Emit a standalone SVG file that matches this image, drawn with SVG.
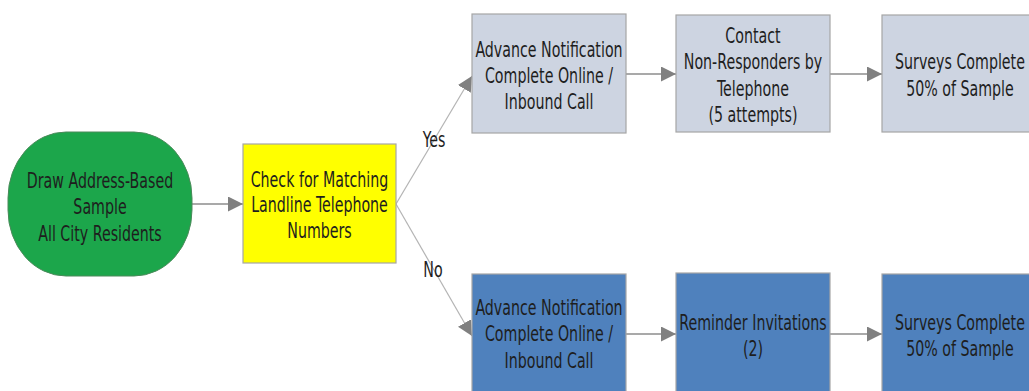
<svg xmlns="http://www.w3.org/2000/svg" width="1029" height="391" viewBox="0 0 1029 391">
  <style>
    text { font-family: "DejaVu Sans Condensed", "DejaVu Sans", sans-serif; font-size: 21.5px; fill: #1e1e1e; text-anchor: middle; }
    .box { stroke: #a6a6a6; stroke-width: 1.2; }
    .light { fill: #cdd4e1; }
    .dark { fill: #4f81bd; }
    .link { stroke: #8c8c8c; stroke-width: 1.5; fill: none; }
    .branch { stroke: #b4b4b4; stroke-width: 1.2; fill: none; }
  </style>
  <defs>
    <marker id="head" viewBox="0 0 10 10" refX="10" refY="5" markerWidth="15" markerHeight="15" markerUnits="userSpaceOnUse" orient="auto">
      <path d="M0,0 L10,5 L0,10 Z" fill="#808080"/>
    </marker>
  </defs>
  <rect width="1029" height="391" fill="#ffffff"/>

  <!-- labels are set in a narrow face: each line is squeezed horizontally about its anchor -->
  <g id="connectors">
    <line class="link" x1="192" y1="204" x2="243" y2="204" marker-end="url(#head)"/>
    <line class="branch" x1="396" y1="204" x2="472" y2="76" marker-end="url(#head)"/>
    <line class="branch" x1="396" y1="204" x2="472" y2="336" marker-end="url(#head)"/>
    <line class="link" x1="626" y1="74" x2="676" y2="74" marker-end="url(#head)"/>
    <line class="link" x1="830" y1="74" x2="882" y2="74" marker-end="url(#head)"/>
    <line class="link" x1="626" y1="334" x2="676" y2="334" marker-end="url(#head)"/>
    <line class="link" x1="830" y1="334" x2="882" y2="334" marker-end="url(#head)"/>
    <text transform="translate(434 147) scale(0.735 1)">Yes</text>
    <text transform="translate(433 277) scale(0.735 1)">No</text>
  </g>

  <g id="draw-sample">
    <rect x="8" y="132" width="184" height="144" rx="58" ry="66" fill="#1ca64b" stroke="#4a8a5a" stroke-width="1"/>
    <text transform="translate(100 188) scale(0.735 1)">Draw Address-Based</text>
    <text transform="translate(100 214) scale(0.735 1)">Sample</text>
    <text transform="translate(100 241) scale(0.735 1)">All City Residents</text>
  </g>

  <g id="check-landline">
    <rect class="box" x="243" y="144" width="153" height="119" fill="#ffff00"/>
    <text transform="translate(319.5 187) scale(0.735 1)">Check for Matching</text>
    <text transform="translate(319.5 212) scale(0.735 1)">Landline Telephone</text>
    <text transform="translate(319.5 238) scale(0.735 1)">Numbers</text>
  </g>

  <g id="yes-notify">
    <rect class="box light" x="472" y="14" width="154" height="119"/>
    <text transform="translate(549 57) scale(0.735 1)">Advance Notification</text>
    <text transform="translate(549 83) scale(0.735 1)">Complete Online /</text>
    <text transform="translate(549 109) scale(0.735 1)">Inbound Call</text>
  </g>

  <g id="yes-contact">
    <rect class="box light" x="676" y="15" width="154" height="117"/>
    <text transform="translate(753 43) scale(0.735 1)">Contact</text>
    <text transform="translate(753 69) scale(0.735 1)">Non-Responders by</text>
    <text transform="translate(753 96) scale(0.735 1)">Telephone</text>
    <text transform="translate(753 122) scale(0.735 1)">(5 attempts)</text>
  </g>

  <g id="yes-complete">
    <rect class="box light" x="882" y="15" width="160" height="117"/>
    <text transform="translate(960 69) scale(0.735 1)">Surveys Complete</text>
    <text transform="translate(960 96) scale(0.735 1)">50% of Sample</text>
  </g>

  <g id="no-notify">
    <rect class="box dark" x="472" y="274" width="154" height="130"/>
    <text transform="translate(549 315) scale(0.735 1)">Advance Notification</text>
    <text transform="translate(549 341) scale(0.735 1)">Complete Online /</text>
    <text transform="translate(549 368) scale(0.735 1)">Inbound Call</text>
  </g>

  <g id="no-reminder">
    <rect class="box dark" x="676" y="273" width="154" height="130"/>
    <text transform="translate(753 330) scale(0.735 1)">Reminder Invitations</text>
    <text transform="translate(753 356) scale(0.735 1)">(2)</text>
  </g>

  <g id="no-complete">
    <rect class="box dark" x="882" y="274" width="160" height="130"/>
    <text transform="translate(960 330) scale(0.735 1)">Surveys Complete</text>
    <text transform="translate(960 356) scale(0.735 1)">50% of Sample</text>
  </g>
</svg>
